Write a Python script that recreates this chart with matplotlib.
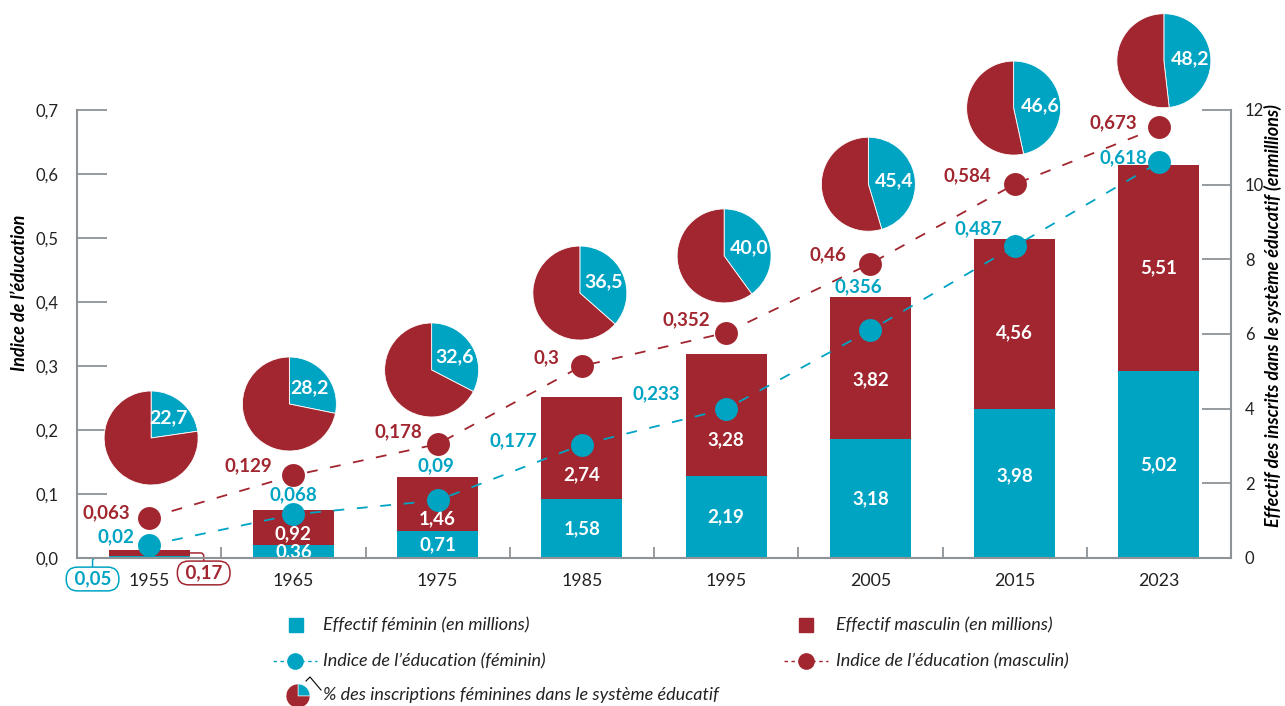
import matplotlib
matplotlib.use("Agg")
import matplotlib.pyplot as plt
import numpy as np

plt.rcParams['font.family'] = ['Lato', 'DejaVu Sans']

# ---------------- data ----------------
years = ['1955', '1965', '1975', '1985', '1995', '2005', '2015', '2023']
female_millions = [0.05, 0.36, 0.71, 1.58, 2.19, 3.18, 3.98, 5.02]
male_millions = [0.17, 0.92, 1.46, 2.74, 3.28, 3.82, 4.56, 5.51]
index_female = [0.02, 0.068, 0.09, 0.177, 0.233, 0.356, 0.487, 0.618]
index_male = [0.063, 0.129, 0.178, 0.3, 0.352, 0.46, 0.584, 0.673]
female_share = [22.7, 28.2, 32.6, 36.5, 40.0, 45.4, 46.6, 48.2]
left_ticks = [0.0, 0.1, 0.2, 0.3, 0.4, 0.5, 0.6, 0.7]
right_ticks = [0, 2, 4, 6, 8, 10, 12]

# ---------------- layout / style ----------------
TEAL = '#00A4C3'
RED = '#A1262F'
GRAY = '#8D9397'
W, H = 1285, 706

# label offsets in pixels (dx, dy up)
male_lbl_off = [(-43, 5), (-45, 10), (-39, 12), (-35, 8), (-40, 13), (-42, 9), (-47, 8), (-46, 5)]
fem_lbl_off = [(-33, 8), (0, 20), (-2, 35), (-69, 4), (-70, 15), (-12, 43), (-36, 18), (-36, 5)]
male_bar_dy = [0, -6, -15, -27, -25, -12, -8, 0]
fem_bar_dy = [0, 0, 0, 0, 0, 0, 8, 0]
# pie centres: y in left-axis units, x shift in px
pie_y = [0.1875, 0.2406, 0.2938, 0.414, 0.472, 0.584, 0.703, 0.777]
pie_dx = [2, -4, -6, -2, -2, -2, -1, 5]
PIE_R = 47

def fr(v):
    return str(v).replace('.', ',')

def fr2(v):
    return f"{v:.2f}".replace('.', ',')

fig = plt.figure(figsize=(W / 100, H / 100), dpi=100)
ax = fig.add_axes([77 / W, (H - 558) / H, (1231 - 77) / W, 448 / H])
ax2 = ax.twinx()
ax.set_zorder(ax2.get_zorder() + 1)
ax.patch.set_visible(False)

x = np.arange(len(years))
bw = 0.5625
ax2.bar(x, female_millions, bw, color=TEAL, zorder=2)
ax2.bar(x, male_millions, bw, bottom=female_millions, color=RED, zorder=2)

for i in range(1, len(years)):
    f, m = female_millions[i], male_millions[i]
    ax2.annotate(fr2(f), xy=(i, f / 2), xytext=(0, fem_bar_dy[i]), textcoords='offset pixels',
                 ha='center', va='center', color='white', fontweight='bold', fontsize=13.5, zorder=5)
    ax2.annotate(fr2(m), xy=(i, f + m / 2), xytext=(0, male_bar_dy[i]), textcoords='offset pixels',
                 ha='center', va='center', color='white', fontweight='bold', fontsize=13.5, zorder=5)

# 1955 callouts
box_style = 'round,pad=0.18,rounding_size=0.6'
ax2.annotate(' ' + fr2(female_millions[0]) + ' ', xy=(0 - bw / 2, 0), xytext=(-16, -21),
             textcoords='offset pixels',
             ha='center', va='center', color=TEAL, fontweight='bold', fontsize=13.5,
             annotation_clip=False,
             bbox=dict(boxstyle=box_style, fc='white', ec=TEAL, lw=1.1),
             arrowprops=dict(arrowstyle='-', color=TEAL, lw=1.1, shrinkA=0, shrinkB=0,
                             connectionstyle='angle,angleA=90,angleB=0,rad=3'))
ax2.annotate(' ' + fr2(male_millions[0]) + ' ',
             xy=(0 + bw / 2, female_millions[0] + male_millions[0] / 2),
             xytext=(14, -20), textcoords='offset pixels',
             ha='center', va='center', color=RED, fontweight='bold', fontsize=13.5,
             annotation_clip=False,
             bbox=dict(boxstyle=box_style, fc='white', ec=RED, lw=1.1),
             arrowprops=dict(arrowstyle='-', color=RED, lw=1.1, shrinkA=0, shrinkB=0,
                             connectionstyle='angle,angleA=90,angleB=0,rad=3'))

# index lines
ax.plot(x, index_female, color=TEAL, lw=1.3, dashes=(6, 7), marker='o', ms=16.5,
        markeredgewidth=0, zorder=3)
ax.plot(x, index_male, color=RED, lw=1.3, dashes=(6, 7), marker='o', ms=16.5,
        markeredgewidth=0, zorder=3)
for i in range(len(years)):
    ax.annotate(fr(index_male[i]), xy=(i, index_male[i]), xytext=male_lbl_off[i],
                textcoords='offset pixels', ha='center', va='center', color=RED,
                fontweight='bold', fontsize=13.5, zorder=6)
    ax.annotate(fr(index_female[i]), xy=(i, index_female[i]), xytext=fem_lbl_off[i],
                textcoords='offset pixels', ha='center', va='center', color=TEAL,
                fontweight='bold', fontsize=13.5, zorder=6)

# axes styling
ax.set_xlim(-0.5, len(years) - 0.5)
ax.set_ylim(0, 0.7)
ax2.set_ylim(0, 12)
ax.set_yticks(left_ticks)
ax.set_yticklabels([f"{t:.1f}".replace('.', ',') for t in left_ticks])
ax2.set_yticks(right_ticks)
ax2.set_yticklabels([str(t) for t in right_ticks])
ax.set_xticks(x)
ax.set_xticklabels(years)
ax.set_xticks(np.arange(0.5, len(years) - 1, 1), minor=True)
ax.tick_params(axis='x', which='major', length=0, pad=11, labelsize=12.8, labelcolor='#222222')
ax.tick_params(axis='x', which='minor', direction='in', length=8, width=1.3, color=GRAY)
ax.tick_params(axis='y', direction='in', length=21.6, width=1.3, color=GRAY, pad=13,
               labelsize=12, labelcolor='#222222')
ax2.tick_params(axis='y', direction='in', length=21, width=1.3, color=GRAY, pad=10,
                labelsize=12, labelcolor='#222222')
for sp in ['top', 'right']:
    ax.spines[sp].set_visible(False)
for sp in ['top', 'left', 'bottom']:
    ax2.spines[sp].set_visible(False)
for sp in ['left', 'bottom']:
    ax.spines[sp].set_color(GRAY)
    ax.spines[sp].set_linewidth(1.5)
ax2.spines['right'].set_color(GRAY)
ax2.spines['right'].set_linewidth(1.5)

fig.text(20 / W, 1 - 293 / H, 'Indice de l’éducation', rotation=90, ha='center', va='center',
         fontweight='bold', style='italic', fontsize=13)
fig.text(1273 / W, 1 - 316 / H, 'Effectif des inscrits dans le système éducatif (enmillions)',
         rotation=90, ha='center', va='center', fontweight='bold', style='italic', fontsize=13)

# overlay for pies and legend (pixel coordinates)
ov = fig.add_axes([0, 0, 1, 1], zorder=10)
ov.patch.set_visible(False)
for i, s in enumerate(female_share):
    cx, cy = ax.transData.transform((i, pie_y[i]))
    cx += pie_dx[i]
    ov.pie([s, 100 - s], colors=[TEAL, RED], startangle=90, counterclock=False,
           center=(cx, cy), radius=PIE_R, frame=True,
           wedgeprops=dict(linewidth=0.6, edgecolor='white'))
    ang = np.deg2rad(90 - 3.6 * s / 2)
    ov.text(cx + 0.56 * PIE_R * np.cos(ang), cy + 0.56 * PIE_R * np.sin(ang),
            f"{s:.1f}".replace('.', ','), ha='center', va='center', color='white',
            fontweight='bold', fontsize=14)

# legend
def Y(yt):
    return H - yt

leg_fs = 13
ov.plot([295.5], [Y(625)], marker='s', ms=9.5, color=TEAL, lw=0)
ov.text(323, Y(625), 'Effectif féminin (en millions)', ha='left', va='center',
        style='italic', fontsize=leg_fs, color='#222222')
ov.plot([806], [Y(625)], marker='s', ms=9.5, color=RED, lw=0)
ov.text(836, Y(625), 'Effectif masculin (en millions)', ha='left', va='center',
        style='italic', fontsize=leg_fs, color='#222222')
ov.plot([273, 317], [Y(661), Y(661)], color=TEAL, lw=1, dashes=(2.5, 2.5))
ov.plot([295], [Y(661)], marker='o', ms=12, color=TEAL, markeredgewidth=0)
ov.text(323, Y(661), 'Indice de l’éducation (féminin)', ha='left', va='center',
        style='italic', fontsize=leg_fs, color='#222222')
ov.plot([784, 828], [Y(661), Y(661)], color=RED, lw=1, dashes=(2.5, 2.5))
ov.plot([806], [Y(661)], marker='o', ms=12, color=RED, markeredgewidth=0)
ov.text(836, Y(661), 'Indice de l’éducation (masculin)', ha='left', va='center',
        style='italic', fontsize=leg_fs, color='#222222')
ov.pie([25, 75], colors=[TEAL, RED], startangle=90, counterclock=False,
       center=(298, Y(696)), radius=12, frame=True,
       wedgeprops=dict(linewidth=0.4, edgecolor='white'))
ov.plot([306, 310, 321], [Y(681), Y(677), Y(690)], color='black', lw=0.8)
ov.text(323, Y(695), '% des inscriptions féminines dans le système éducatif', ha='left',
        va='center', style='italic', fontsize=leg_fs, color='#222222')

ov.set_aspect('auto')
ov.set_xlim(0, W)
ov.set_ylim(0, H)
ov.axis('off')

fig.savefig('out.png', dpi=100)
